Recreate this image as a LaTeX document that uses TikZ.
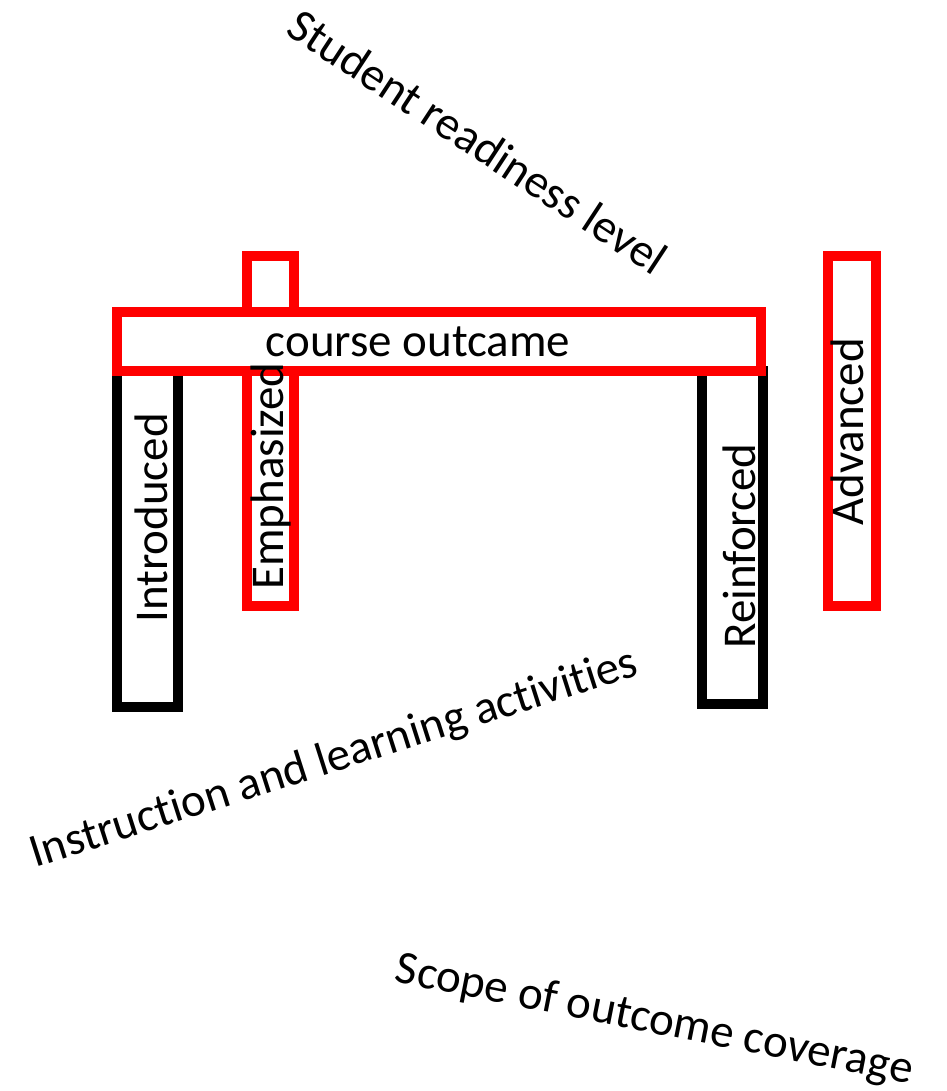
\documentclass[tikz,border=0pt]{standalone}
\usepackage{fontspec}
\setmainfont[Ligatures={NoCommon,NoContextual,NoRare}, RawFeature={-liga;-clig;-dlig}]{Carlito}
\tikzset{
	lbl/.style={font=\fontsize{47}{56}\selectfont, inner sep=0pt, anchor=base},
	redbox/.style={draw=red, line width=10pt},
	blackbox/.style={draw=black, line width=10pt}
}

\begin{document}
\begin{tikzpicture}[x=1pt, y=-1pt, line join=miter]
    \useasboundingbox (0,0) rectangle (946,1091);

    \coordinate (E0) at (247,256);  \coordinate (E1) at (294,606);
    \coordinate (I0) at (117,371);  \coordinate (I1) at (178,707);
    \coordinate (R0) at (702,371);  \coordinate (R1) at (763,704);
    \coordinate (A0) at (828,256);  \coordinate (A1) at (876,606);
    \coordinate (C0) at (117,312);  \coordinate (C1) at (761,371);

    \draw[redbox]   (E0) rectangle (E1);
    \draw[blackbox] (I0) rectangle (I1);
    \draw[blackbox] (R0) rectangle (R1);
    \draw[redbox]   (A0) rectangle (A1);
    \draw[redbox, fill=white] (C0) rectangle (C1);

    \node[lbl] (outcome) at (418,356) {course outcame};
    \node[lbl, rotate=90] (intro) at (167,518) {Introduced};
    \node[lbl, rotate=90] (emph)  at (283,476) {Emphasized};
    \node[lbl, rotate=90] (reinf) at (755,546) {Reinforced};
    \node[lbl, rotate=90] (adv)   at (863,432) {Advanced};

    \node[lbl, rotate=-33.3] (ready) at (469,155) {Student readiness level};
    \node[lbl, rotate=17.7]  (instr) at (338,771) {Instruction and learning activities};
    \node[lbl, rotate=-11.2] (scope) at (652,1033) {Scope of outcome coverage};
  \end{tikzpicture}
\end{document}
